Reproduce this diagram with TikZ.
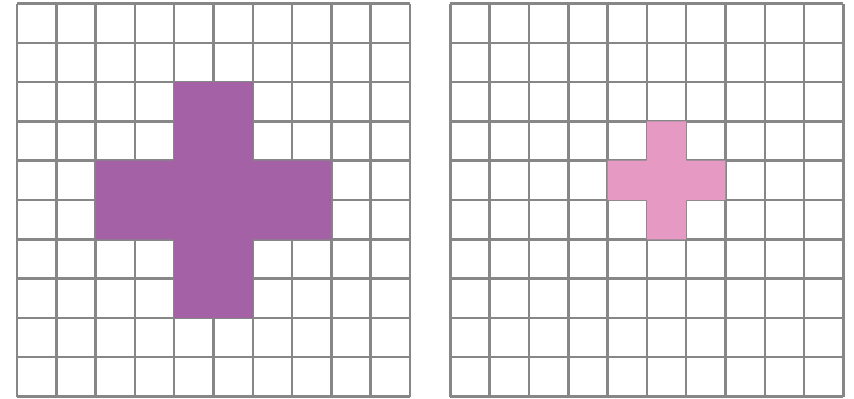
\documentclass[tikz,border=0pt]{standalone}
\definecolor{GridClr}{rgb}{0.53,0.53,0.53}
\definecolor{BigClr}{rgb}{0.643,0.380,0.651}
\definecolor{SmallClr}{rgb}{0.902,0.604,0.765}

\begin{document}
\begin{tikzpicture}[x=1cm,y=1cm]
\tikzset{gridline/.style={line width=1.8pt,color=GridClr}}
\useasboundingbox (0,0) rectangle (21.73,10.13);

% left grid with large cross
\begin{scope}[shift={(0.433,0.04)}]
\draw[gridline] (0,0) grid (10,10);
\fill[BigClr] (4,2) -- (6,2) -- (6,4) -- (8,4) -- (8,6) -- (6,6) -- (6,8)
  -- (4,8) -- (4,6) -- (2,6) -- (2,4) -- (4,4) -- cycle;
\end{scope}

% right grid with small cross
\begin{scope}[shift={(11.46,0.04)}]
\draw[gridline] (0,0) grid (10,10);
\fill[SmallClr] (5,4) -- (6,4) -- (6,5) -- (7,5) -- (7,6) -- (6,6) -- (6,7)
  -- (5,7) -- (5,6) -- (4,6) -- (4,5) -- (5,5) -- cycle;
\end{scope}

\end{tikzpicture}
\end{document}
